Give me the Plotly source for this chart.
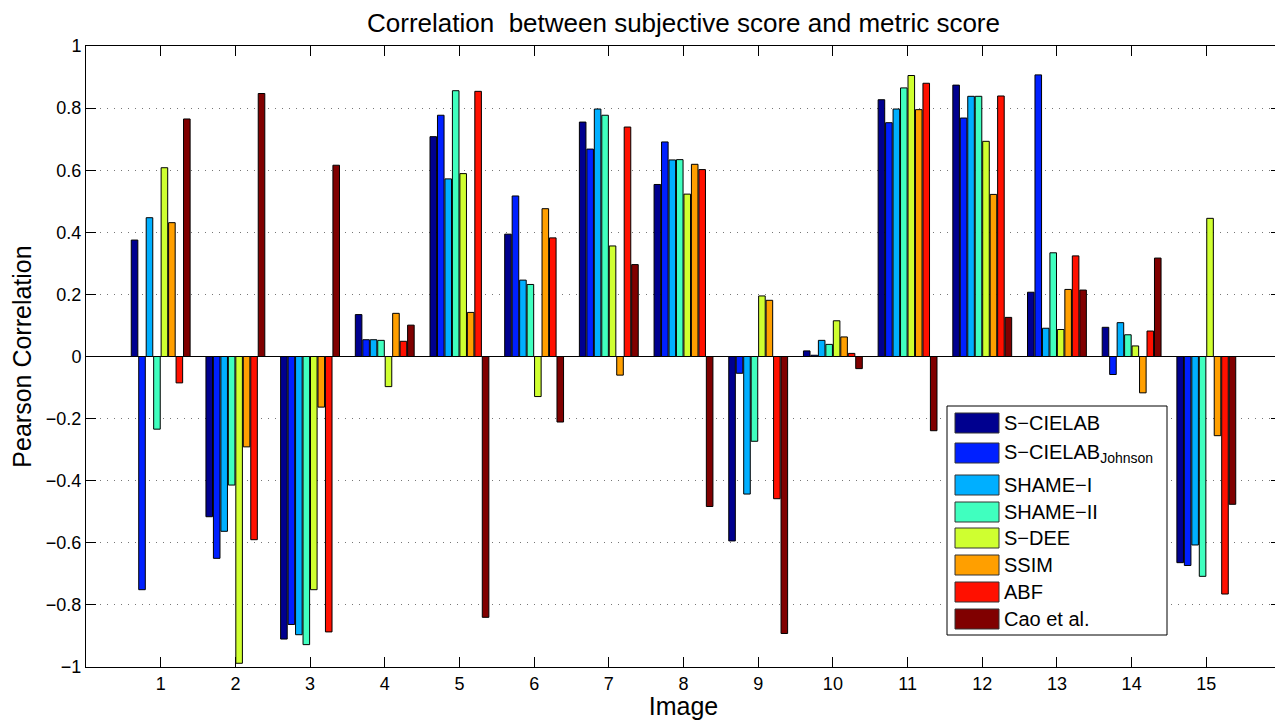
import plotly.graph_objects as go

images = [str(i) for i in range(1, 16)]

s_cielab      = [0.375, -0.516, -0.910, 0.135, 0.708, 0.394, 0.755, 0.554, -0.594, 0.018, 0.827, 0.874, 0.207, 0.094, -0.664]
s_cielab_j    = [-0.751, -0.650, -0.863, 0.054, 0.777, 0.517, 0.668, 0.691, -0.054, 0.004, 0.753, 0.768, 0.907, -0.058, -0.673]
shame_i       = [0.447, -0.563, -0.896, 0.054, 0.572, 0.246, 0.797, 0.633, -0.443, 0.052, 0.797, 0.838, 0.091, 0.109, -0.607]
shame_ii      = [-0.234, -0.414, -0.928, 0.052, 0.856, 0.232, 0.777, 0.634, -0.273, 0.039, 0.865, 0.838, 0.334, 0.070, -0.708]
s_dee         = [0.608, -0.988, -0.751, -0.097, 0.589, -0.129, 0.356, 0.523, 0.195, 0.115, 0.905, 0.693, 0.087, 0.034, 0.445]
ssim          = [0.431, -0.291, -0.163, 0.139, 0.142, 0.476, -0.060, 0.619, 0.181, 0.063, 0.795, 0.522, 0.216, -0.117, -0.255]
abf           = [-0.085, -0.590, -0.887, 0.049, 0.854, 0.382, 0.739, 0.602, -0.458, 0.010, 0.880, 0.839, 0.324, 0.082, -0.765]
cao           = [0.765, 0.847, 0.616, 0.101, -0.840, -0.211, 0.296, -0.483, -0.892, -0.039, -0.239, 0.126, 0.214, 0.317, -0.476]

series = [s_cielab, s_cielab_j, shame_i, shame_ii, s_dee, ssim, abf, cao]
names = ["S\u2212CIELAB", "S\u2212CIELAB<sub>Johnson</sub>", "SHAME\u2212I", "SHAME\u2212II",
         "S\u2212DEE", "SSIM", "ABF", "Cao et al."]
colors = ["#00008F", "#0020FF", "#00AFFF", "#40FFBF", "#CFFF30", "#FF9F00", "#FF1000", "#800000"]

yticks = [-1, -0.8, -0.6, -0.4, -0.2, 0, 0.2, 0.4, 0.6, 0.8, 1]
yticktext = ["\u22121", "\u22120.8", "\u22120.6", "\u22120.4", "\u22120.2", "0", "0.2", "0.4", "0.6", "0.8", "1"]

FONT = "Liberation Sans, Arial, Helvetica, sans-serif"

fig = go.Figure()
xnum = list(range(1, 16))
for vals, name, col in zip(series, names, colors):
    fig.add_trace(go.Bar(x=xnum, y=vals, name=name,
                         marker=dict(color=col, line=dict(color="black", width=1)),
                         showlegend=False))

# page offset (default body margin) and geometry in page pixels
OFF = 8
W, H = 1275, 712
plot_left, plot_right, plot_top, plot_bottom = 86, 1281, 46, 667
ml = plot_left - OFF
mt = plot_top - OFF
mr = W - (plot_right - OFF)
mb = H - (plot_bottom - OFF)
pw, ph = W - ml - mr, H - mt - mb

def px_x(x):
    return (x - plot_left) / pw

def px_y(y):
    return (plot_bottom - y) / ph

shapes = []
annotations = []
shapes.append(dict(type="rect", xref="paper", yref="paper", x0=px_x(947), x1=px_x(1167),
                   y0=px_y(635), y1=px_y(406), line=dict(color="black", width=1),
                   fillcolor="white", layer="above"))
row_centers = [423, 453, 485, 512, 538, 565, 592, 619]
for name, col, yc in zip(names, colors, row_centers):
    shapes.append(dict(type="rect", xref="paper", yref="paper", x0=px_x(955), x1=px_x(999),
                       y0=px_y(yc + 10), y1=px_y(yc - 10), line=dict(color="#333", width=1),
                       fillcolor=col, layer="above"))
    annotations.append(dict(xref="paper", yref="paper", x=px_x(1002), y=px_y(yc), text=name,
                            showarrow=False, xanchor="left", yanchor="middle",
                            font=dict(family=FONT, size=20, color="black")))

fig.update_layout(
    width=W, height=H,
    margin=dict(l=ml, r=mr, t=mt, b=mb),
    paper_bgcolor="white", plot_bgcolor="white",
    barmode="group", bargap=0.2, bargroupgap=0.12,
    font=dict(family=FONT, size=18, color="black"),
    title=dict(text="Correlation  between subjective score and metric score", x=0.5,
               xref="paper", xanchor="center", yref="container", y=1 - (23 - OFF) / H, yanchor="middle",
               font=dict(family=FONT, size=26, color="black")),
    xaxis=dict(range=[0, 16], tickvals=xnum, ticktext=images, ticks="inside", ticklen=10,
               tickcolor="black", showline=True, linecolor="black", linewidth=1, mirror="ticks",
               showgrid=False, zeroline=False,
               title=dict(text="Image", font=dict(family=FONT, size=25), standoff=2),
               tickfont=dict(family=FONT, size=18)),
    yaxis=dict(range=[-1, 1], tickvals=yticks, ticktext=yticktext, ticks="inside", ticklen=10,
               tickcolor="black", showline=True, linecolor="black", linewidth=1, mirror="ticks",
               showgrid=True, gridcolor="#777", gridwidth=1, griddash="1px,6px",
               zeroline=True, zerolinecolor="black", zerolinewidth=1,
               title=dict(text="Pearson Correlation", font=dict(family=FONT, size=25), standoff=8),
               tickfont=dict(family=FONT, size=18)),
    shapes=shapes, annotations=annotations,
)

fig.write_html("out.html")
